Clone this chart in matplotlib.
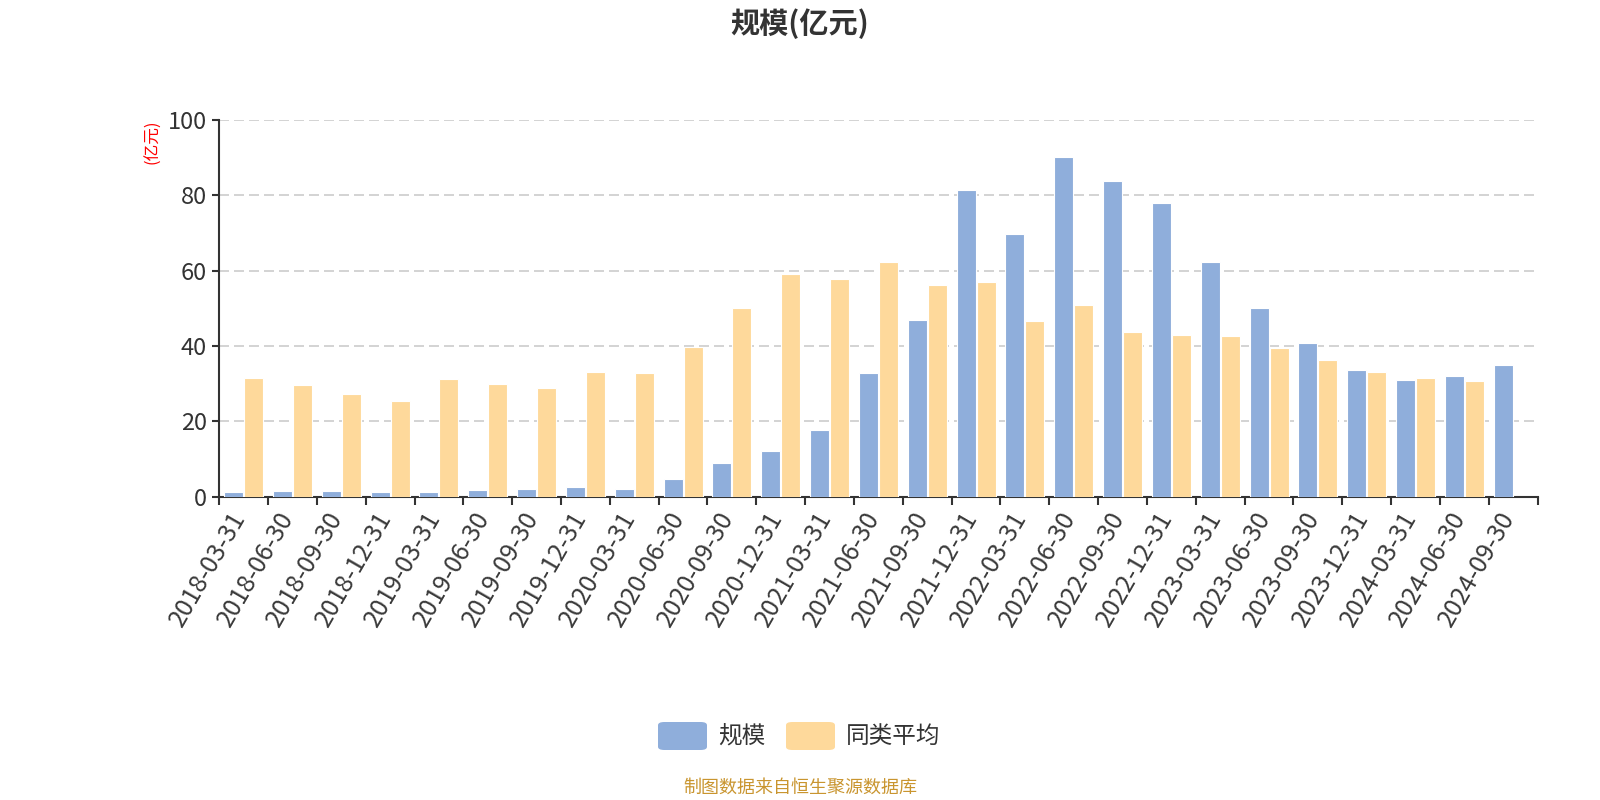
import matplotlib.pyplot as plt
from matplotlib.patches import FancyBboxPatch
import matplotlib.transforms as mtransforms
import numpy as np

plt.rcParams['font.family'] = ['Noto Sans CJK SC', 'DejaVu Sans']

# 数据
dates = ['2018-03-31', '2018-06-30', '2018-09-30', '2018-12-31',
         '2019-03-31', '2019-06-30', '2019-09-30', '2019-12-31',
         '2020-03-31', '2020-06-30', '2020-09-30', '2020-12-31',
         '2021-03-31', '2021-06-30', '2021-09-30', '2021-12-31',
         '2022-03-31', '2022-06-30', '2022-09-30', '2022-12-31',
         '2023-03-31', '2023-06-30', '2023-09-30', '2023-12-31',
         '2024-03-31', '2024-06-30', '2024-09-30']
scale = [1.3, 1.5, 1.5, 1.3, 1.4, 1.8, 2.0, 2.5, 2.2, 4.7, 9.0, 12.2,
         17.6, 32.9, 47.0, 81.3, 69.8, 90.2, 83.9, 78.0, 62.4, 50.1,
         40.8, 33.7, 31.1, 32.0, 35.1]
peer_avg = [31.4, 29.6, 27.4, 25.4, 31.3, 29.9, 29.0, 33.2, 32.9, 39.8,
            50.2, 59.1, 57.8, 62.4, 56.3, 57.1, 46.7, 50.9, 43.7, 43.0,
            42.6, 39.6, 36.3, 33.2, 31.6, 30.8]

blue = '#8FAEDB'
yellow = '#FED99B'
text_c = '#333333'

fig = plt.figure(figsize=(16, 8), dpi=100)
ax = fig.add_axes([0.137, 0.379, 0.824, 0.471])

x = np.arange(len(dates))
w = 0.39
ax.bar(x - 0.205, scale, width=w, color=blue, edgecolor='white', linewidth=0.8, zorder=3)
ax.bar(x[:len(peer_avg)] + 0.205, peer_avg, width=w, color=yellow, edgecolor='white',
       linewidth=0.8, zorder=3)

ax.set_xlim(-0.5, len(dates) - 0.5)
ax.set_ylim(0, 100)

# 坐标轴
for s in ['top', 'right']:
    ax.spines[s].set_visible(False)
for s in ['left', 'bottom']:
    ax.spines[s].set_color(text_c)
    ax.spines[s].set_linewidth(1.5)

ax.set_yticks(range(0, 101, 20))
ax.tick_params(axis='y', length=5, width=1.5, color=text_c, labelsize=17,
               labelcolor=text_c, pad=4)
ax.yaxis.grid(True, color='#cccccc', linewidth=1.2, linestyle=(0, (6, 3)), zorder=0)

ax.set_xticks(np.arange(-0.5, len(dates)), minor=False)
ax.set_xticklabels([])
ax.tick_params(axis='x', which='major', length=6, width=1.5, color=text_c)
ax.set_xticks(x, minor=True)
ax.set_xticklabels(dates, minor=True, rotation=60, ha='right', va='center',
                   rotation_mode='anchor')
ax.tick_params(axis='x', which='minor', length=0, labelsize=18, labelcolor='#3a3a3a', pad=12)
shift = mtransforms.ScaledTranslation(-4 / 100, 0, fig.dpi_scale_trans)
for lbl in ax.get_xticklabels(minor=True):
    lbl.set_transform(lbl.get_transform() + shift)

# 标题和单位
fig.text(0.5, 0.971, '规模(亿元)', ha='center', va='center', fontsize=21,
         fontweight='bold', color=text_c)
fig.text(0.0956, 0.8225, '(亿元)', ha='center', va='center', rotation=90,
         fontsize=12, color='red')

# 图例
for x0, col, lab in [(658, blue, '规模'), (786, yellow, '同类平均')]:
    box = FancyBboxPatch((x0 / 1600, 1 - 750 / 800), 49 / 1600, 28 / 800,
                         boxstyle='round,pad=0,rounding_size=0.004',
                         transform=fig.transFigure, facecolor=col, edgecolor='none')
    fig.patches.append(box)
    fig.text((x0 + 60) / 1600, 1 - 736 / 800, lab, ha='left', va='center',
             fontsize=17, color=text_c)

fig.text(0.5, 1 - 788 / 800, '制图数据来自恒生聚源数据库', ha='center', va='center',
         fontsize=13, color='#C9952F')

plt.savefig('out.png')
